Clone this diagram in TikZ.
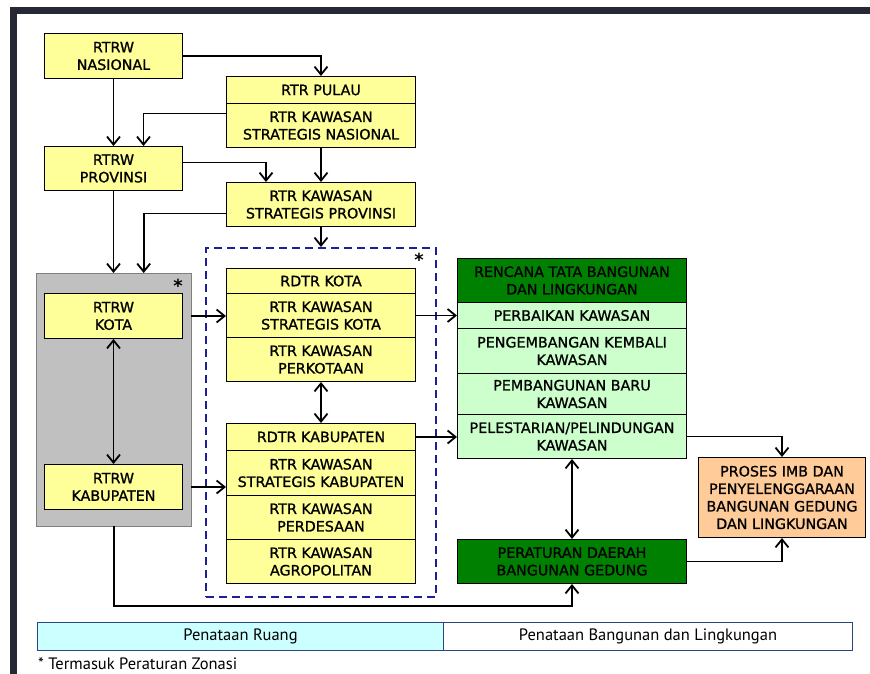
\documentclass[tikz,border=0pt]{standalone}
\usepackage{fontspec}
\setmainfont{DejaVu Sans}
\newfontfamily\boxfont{DejaVu Sans}[FakeBold=1]
\newfontfamily\legendfont{PT Sans}
\usetikzlibrary{arrows.meta, positioning}
\definecolor{ylw}{RGB}{255,255,153}
\definecolor{grayfill}{RGB}{192,192,192}
\definecolor{dkgreen}{RGB}{0,128,0}
\definecolor{ltgreen}{RGB}{204,255,204}
\definecolor{peach}{RGB}{255,204,153}
\definecolor{lgcyan}{RGB}{204,255,255}
\definecolor{navy}{RGB}{30,30,150}
\definecolor{framedark}{RGB}{38,40,52}
\definecolor{legendline}{RGB}{40,70,130}

\begin{document}
\begin{tikzpicture}[x=1pt, y=-1pt,
    cell/.style={draw=black, line width=1pt, anchor=north west, inner sep=0pt,
        align=center, font=\boxfont\fontsize{14.3}{17.5}\selectfont},
    ycell/.style={cell, fill=ylw},
    gcell/.style={cell, fill=ltgreen},
    dcell/.style={cell, fill=dkgreen},
    arr/.style={-{Straight Barb[length=8pt,width=13pt]}, line width=1.8pt},
    darr/.style={{Straight Barb[length=8pt,width=13pt]}-{Straight Barb[length=8pt,width=13pt]}, line width=1.8pt}]
    \useasboundingbox (0,0) rectangle (870,674);

    % slide frame
    \fill[framedark] (10,7) rectangle (870,14);
    \fill[framedark] (10,7) rectangle (17,674);

    % Penataan ruang (national / province)
    \node[ycell, minimum width=138pt, minimum height=45pt] (nas) at (44,33) {RTRW\\NASIONAL};
    \node[ycell, minimum width=189pt, minimum height=27pt] (pulau) at (226,76) {RTR PULAU};
    \node[ycell, minimum width=189pt, minimum height=44pt] (ksn) at (226,103) {RTR KAWASAN\\STRATEGIS NASIONAL};
    \node[ycell, minimum width=138pt, minimum height=44pt] (prov) at (44,146) {RTRW\\PROVINSI};
    \node[ycell, minimum width=189pt, minimum height=44pt] (ksp) at (226,182) {RTR KAWASAN\\STRATEGIS PROVINSI};

    % city / regency block
    \node[draw=black!50, fill=grayfill, anchor=north west, minimum width=155pt, minimum height=253pt] (gray) at (36,273) {};
    \node[font=\bfseries\fontsize{18}{18}\selectfont] (star1) at (178,286) {*};
    \node[ycell, minimum width=138pt, minimum height=45pt] (kota) at (44,293) {RTRW\\KOTA};
    \node[ycell, minimum width=138pt, minimum height=45pt] (kab) at (44,464) {RTRW\\KABUPATEN};

    % detail plans
    \node[draw=navy, line width=2.2pt, dash pattern=on 8pt off 5pt, anchor=north west,
        minimum width=230pt, minimum height=349pt] (dash) at (205,247) {};
    \node[font=\bfseries\fontsize{18}{18}\selectfont] (star2) at (419,260) {*};
    \node[ycell, minimum width=189pt, minimum height=25pt] (rkota) at (226,268) {RDTR KOTA};
    \node[ycell, minimum width=189pt, minimum height=44pt] (skota) at (226,293) {RTR KAWASAN\\STRATEGIS KOTA};
    \node[ycell, minimum width=189pt, minimum height=44pt] (perkot) at (226,337) {RTR KAWASAN\\PERKOTAAN};
    \node[ycell, minimum width=189pt, minimum height=27pt] (rkab) at (226,423) {RDTR KABUPATEN};
    \node[ycell, minimum width=189pt, minimum height=45pt] (skab) at (226,450) {RTR KAWASAN\\STRATEGIS KABUPATEN};
    \node[ycell, minimum width=189pt, minimum height=44pt] (desa) at (226,495) {RTR KAWASAN\\PERDESAAN};
    \node[ycell, minimum width=189pt, minimum height=44pt] (agro) at (226,539) {RTR KAWASAN\\AGROPOLITAN};

    % Penataan bangunan
    \node[dcell, minimum width=229pt, minimum height=44pt] (rtbl) at (457,258) {RENCANA TATA BANGUNAN\\DAN LINGKUNGAN};
    \node[gcell, minimum width=229pt, minimum height=26pt] (perb) at (457,302) {PERBAIKAN KAWASAN};
    \node[gcell, minimum width=229pt, minimum height=45pt] (pengb) at (457,328) {PENGEMBANGAN KEMBALI\\KAWASAN};
    \node[gcell, minimum width=229pt, minimum height=41pt] (pemb) at (457,373) {PEMBANGUNAN BARU\\KAWASAN};
    \node[gcell, minimum width=229pt, minimum height=44pt] (pel) at (457,414) {PELESTARIAN/PELINDUNGAN\\KAWASAN};
    \node[dcell, minimum width=229pt, minimum height=44pt] (perda) at (457,539) {PERATURAN DAERAH\\BANGUNAN GEDUNG};
    \node[cell, fill=peach, minimum width=167pt, minimum height=80pt] (imb) at (698,457) {PROSES IMB DAN\\PENYELENGGARAAN\\BANGUNAN GEDUNG\\DAN LINGKUNGAN};

    % connectors
    \coordinate (low) at (0,606);
    \draw[arr] (nas.east) -| (pulau.north);
    \draw[arr] (nas.south) -- (prov.north);
    \draw[arr] ([yshift=12pt]ksn.west) -| ([xshift=30pt]prov.north);
    \draw[arr] (ksn.south) -- (ksp.north);
    \draw[arr] ([yshift=6pt]prov.east) -| ([xshift=-55pt]ksp.north);
    \draw[arr] (prov.south) -- (prov.south |- gray.north);
    \draw[arr] ([yshift=-9pt]ksp.west) -| ([xshift=30pt]gray.north);
    \draw[arr] (ksp.south) -- (ksp.south |- dash.north);
    \draw[arr] (kota -| gray.east) -- (kota -| skota.west);
    \draw[darr] (kota.south) -- (kab.north);
    \draw[arr] (kab -| gray.east) -- (kab -| skab.west);
    \draw[darr] (perkot.south) -- (rkab.north);
    \draw[arr] (skota.east) -- (skota.east -| perb.west);
    \draw[arr] (rkab.east) -- (rkab.east -| pel.west);
    \draw[darr] (pel.south) -- (perda.north);
    \draw[arr] (pel.east) -| (imb.north);
    \draw[arr] (perda.east) -| (imb.south);
    \draw[arr] (gray.south) -- (gray.south |- low) -| (perda.south);

    % legend
    \node[draw=legendline, line width=1pt, fill=lgcyan, anchor=north west, minimum width=406pt, minimum height=28pt,
        font=\legendfont\fontsize{16.5}{18}\selectfont] (ruang) at (37,622) {Penataan Ruang};
    \node[draw=legendline, line width=1pt, fill=white, anchor=north west, minimum width=409pt, minimum height=28pt,
        font=\legendfont\fontsize{16.5}{18}\selectfont] (bang) at (443,622) {Penataan Bangunan dan Lingkungan};
    \node[anchor=west, inner sep=0pt, font=\legendfont\fontsize{16.5}{18}\selectfont] (note) at (38,664) {* Termasuk Peraturan Zonasi};
\end{tikzpicture}
\end{document}
